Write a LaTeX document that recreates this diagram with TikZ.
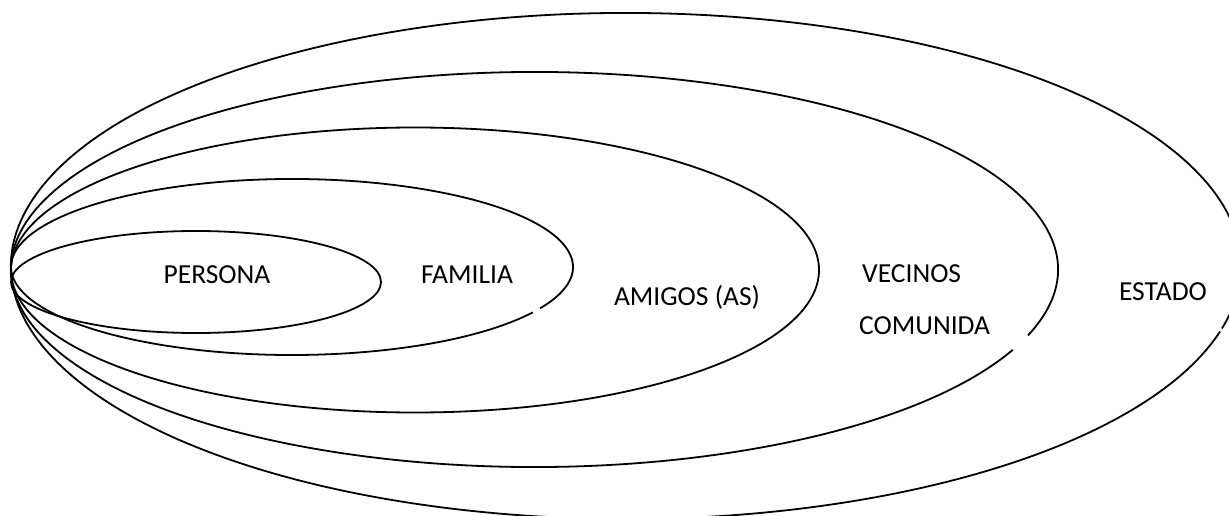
\documentclass[tikz,border=0pt]{standalone}
\usepackage{fontspec}
\setmainfont{Carlito}
\begin{document}
\begin{tikzpicture}[x=1pt,y=-1pt,
  ring/.style={draw=black,line width=1.8pt},
  lbl/.style={font=\fontsize{27.5}{52}\selectfont,inner sep=0pt,align=center}]
\useasboundingbox (0,0) rectangle (1229,516);
% centres of the rings
\coordinate (cE) at (626,266);
\coordinate (cV) at (534.5,269.5);
\coordinate (cA) at (415,270);
\coordinate (cF) at (292,267);
\coordinate (cP) at (196,282);
% rings (with small breaks as in the original)
\draw[ring] (cE) ++(15:615 and 253) arc[start angle=15,end angle=374.3,x radius=615,y radius=253];
\draw[ring] (cV) ++(24:523.5 and 197.5) arc[start angle=24,end angle=379.5,x radius=523.5,y radius=197.5];
\draw[ring] (cA) ellipse [x radius=404,y radius=142.5];
\draw[ring] (cF) ++(31:281 and 88) arc[start angle=31,end angle=388,x radius=281,y radius=88];
\draw[ring] (cP) ellipse [x radius=185,y radius=51];
% labels
\node[lbl] (persona) at (217,275) {PERSONA};
\node[lbl] (familia) at (467,275) {FAMILIA};
\node[lbl] (amigos) at (687,297) {AMIGOS (AS)};
\node[lbl,align=left,anchor=west] (vecinos) at (859,300) {\hspace*{3pt}VECINOS\\COMUNIDA};
\node[lbl] (estado) at (1163,292) {ESTADO};
\end{tikzpicture}
\end{document}
